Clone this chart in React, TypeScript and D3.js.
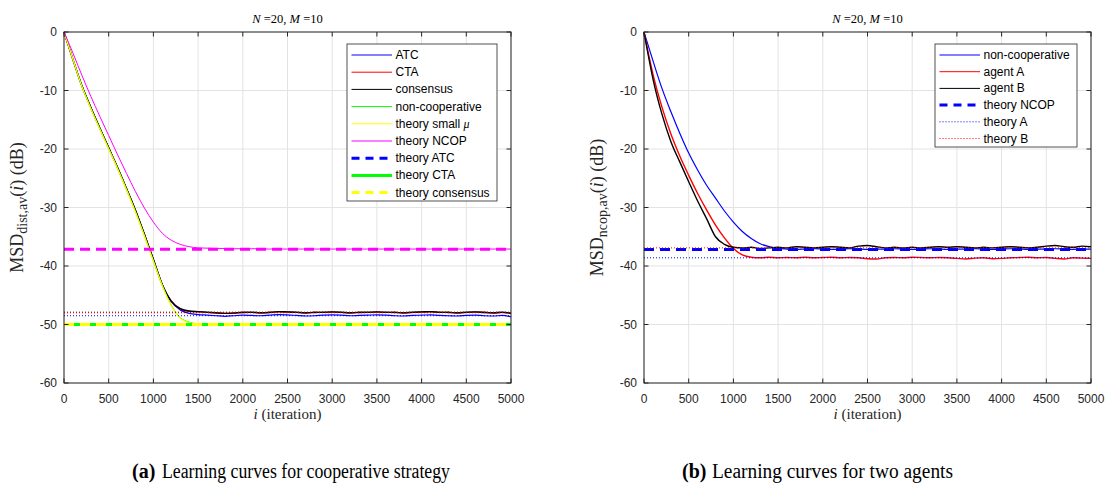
import React from 'react';
import * as d3 from 'd3';

const W = 1109;
const H = 491;

// iteration grid shared by every simulated curve (one sample every 100 iterations)
const iters = d3.range(0, 5001, 100);

// ---- (a) cooperative strategy ----
const atcVals = [0, -4.7, -9.2, -12.9, -16.4, -19.8, -23.2, -26.8, -30.5, -34.6, -38.9, -43.2, -46.1, -47.5, -48.1,
  -48.3, -48.4, -48.5, -48.6, -48.5, -48.4, -48.45, -48.5, -48.4, -48.3, -48.35, -48.45, -48.55, -48.5, -48.4, -48.35,
  -48.4, -48.5, -48.45, -48.4, -48.35, -48.4, -48.5, -48.55, -48.45, -48.4, -48.35, -48.45, -48.5, -48.55, -48.45, -48.4,
  -48.5, -48.55, -48.45, -48.7];
const ctaVals = [0, -4.7, -9.2, -12.9, -16.4, -19.8, -23.2, -26.8, -30.5, -34.6, -38.9, -43.2, -46.0, -47.3, -47.75,
  -47.85, -47.95, -48.05, -48.1, -48.0, -47.9, -47.95, -48.05, -47.9, -47.85, -47.9, -47.95, -48.05, -47.9, -47.95, -47.9,
  -47.95, -48.05, -47.9, -47.95, -47.9, -47.95, -47.9, -48.05, -47.95, -47.9, -47.85, -47.95, -47.9, -48.05, -47.95, -47.9,
  -47.9, -48.05, -47.95, -48.1];
const consensusVals = [0, -4.7, -9.2, -12.9, -16.4, -19.8, -23.2, -26.8, -30.5, -34.6, -38.9, -43.2, -46.0, -47.3, -47.7,
  -47.8, -47.9, -48.0, -48.1, -48.05, -47.95, -47.9, -48.0, -47.95, -47.8, -47.85, -47.9, -48.0, -47.95, -47.9, -47.85,
  -47.9, -48.0, -47.95, -47.9, -47.85, -47.9, -47.95, -48.0, -47.9, -47.85, -47.8, -47.9, -47.95, -48.0, -47.9, -47.85,
  -47.95, -48.0, -47.9, -48.05];
const nonCoopVals = [0, -4.6, -9.2, -13.0, -16.5, -19.9, -23.3, -26.9, -30.7, -34.8, -39.1, -43.3, -46.7, -48.8, -49.6,
  -49.9, -50.0, -50.05, -50.0, -49.95, -50.0, -50.05, -50.0, -49.95, -50.0, -50.05, -50.0, -49.95, -50.0, -50.05, -50.0,
  -49.95, -50.0, -50.05, -50.0, -49.95, -50.0, -50.05, -50.0, -49.95, -50.0, -50.05, -50.0, -49.95, -50.0, -50.05, -50.0,
  -49.95, -50.0, -50.05, -50.0];
const smallMuVals = [0, -4.7, -9.3, -13.1, -16.6, -20.0, -23.4, -27.0, -30.8, -34.9, -39.2, -43.4, -46.8, -48.9, -49.7,
  -49.9, -50.0, -50.05, -50.1, -50.0, -49.95, -50.0, -50.1, -50.05, -49.9, -49.95, -50.0, -50.05, -49.95, -49.9, -50.0,
  -50.05, -50.1, -50.0, -49.95, -49.9, -50.0, -50.05, -50.1, -50.0, -49.95, -50.0, -50.05, -50.0, -49.95, -50.0, -50.05,
  -50.1, -50.0, -49.95, -50.05];
const ncopTheoryVals = [0, -3.6, -7.4, -11.0, -14.4, -17.7, -21.0, -24.2, -27.3, -30.1, -32.5, -34.4, -35.6, -36.3, -36.7,
  -36.9, -36.95, -37.0, -37.0, -37.05, -37.05, -37.05, -37.05, -37.1, -37.1, -37.1, -37.1, -37.1, -37.1, -37.1, -37.1,
  -37.1, -37.1, -37.1, -37.1, -37.1, -37.1, -37.1, -37.1, -37.1, -37.1, -37.1, -37.1, -37.1, -37.1, -37.1, -37.1,
  -37.1, -37.1, -37.1, -37.1];
const theoryAtcLevel = -50.0;
const theoryCtaLevel = -50.0;
const theoryConsensusLevel = -50.0;
const theoryNcopLevel = -37.15;
const steadyRedLevel = -48.0;
const steadyBlackLevel = -47.9;
const steadyBlueLevel = -48.5;

// ---- (b) two agents ----
const nonCoopRVals = [0, -4.9, -9.6, -13.6, -17.3, -20.7, -23.6, -26.2, -28.4, -30.6, -32.5, -34.1, -35.3, -36.2, -36.7,
  -37.0, -37.1, -37.15, -37.1, -37.05, -37.1, -37.15, -37.1, -37.05, -37.1, -37.15, -37.1, -37.1, -37.05, -37.1, -37.15,
  -37.1, -37.05, -37.1, -37.15, -37.1, -37.1, -37.05, -37.1, -37.15, -37.1, -37.05, -37.1, -37.15, -37.1, -37.1, -37.05,
  -37.1, -37.15, -37.1, -37.1];
const agentAVals = [0, -7.2, -12.8, -17.4, -21.2, -24.5, -27.6, -30.4, -33.0, -35.2, -37.0, -38.1, -38.5,
  -38.6, -38.5, -38.6, -38.55, -38.6, -38.5, -38.6, -38.55, -38.5, -38.6, -38.55, -38.6, -38.75, -38.8, -38.6, -38.55,
  -38.6, -38.5, -38.55, -38.6, -38.55, -38.6, -38.7, -38.8, -38.65, -38.6, -38.75, -38.7, -38.6, -38.55, -38.5, -38.6,
  -38.55, -38.7, -38.8, -38.6, -38.65, -38.7];
const agentBVals = [0, -8.0, -14.0, -18.7, -22.2, -25.6, -28.9, -31.9, -35.0, -36.3, -36.8,
  -36.9, -36.8, -37.0, -36.9, -36.8, -36.9, -36.7, -36.8, -36.9, -36.8, -36.7, -36.8, -36.9, -36.6, -36.5, -36.7,
  -36.9, -36.8, -36.9, -36.8, -36.9, -36.8, -36.7, -36.8, -36.7, -36.8, -36.9, -36.8, -36.9, -36.8, -36.7, -36.8,
  -36.9, -36.8, -36.6, -36.5, -36.7, -36.8, -36.6, -36.7];
const theoryNcopRLevel = -37.2;
const theoryALevel = -38.6;
const theoryBLevel = -36.9;

const xTicks = [0, 500, 1000, 1500, 2000, 2500, 3000, 3500, 4000, 4500, 5000];
const yTicks = [0, -10, -20, -30, -40, -50, -60];

type Line = { xs: number[]; ys: number[]; color: string; width: number; dash?: string };
type LegendItem = { label: React.ReactNode; color: string; width: number; dash?: string };

const AX = '#262626';
const SANS = '"Liberation Sans", Arial, Helvetica, sans-serif';
const SERIF = '"Liberation Serif", "Times New Roman", serif';

const flat = (level: number) => [level, level];

function Panel(props: {
  x0: number; x1: number; lines: Line[]; legend: LegendItem[];
  legendX: number; legendW: number; legendH: number; rowStep: number; sub: string;
}) {
  const { x0, x1, lines, legend, legendX, legendW, legendH, rowStep, sub } = props;
  const x = d3.scaleLinear().domain([0, 5000]).range([x0, x1]);
  const y = d3.scaleLinear().domain([-60, 0]).range([383, 32]);
  const line = d3.line<[number, number]>().x(d => x(d[0])).y(d => y(d[1])).curve(d3.curveMonotoneX);
  const cx = (x0 + x1) / 2;
  const legendY = 44;
  return (
    <g>
      {/* grid */}
      {xTicks.map(t => <line key={'gx' + t} x1={x(t)} x2={x(t)} y1={y(-60)} y2={y(0)} stroke="#e3e3e3" />)}
      {yTicks.map(t => <line key={'gy' + t} x1={x0} x2={x1} y1={y(t)} y2={y(t)} stroke="#e3e3e3" />)}
      {/* curves */}
      {lines.map((l, i) => {
        const pts: [number, number][] = l.xs.map((v, k) => [v, l.ys[k]] as [number, number]).filter(p => p[1] !== undefined);
        return <path key={i} d={line(pts) || ''} fill="none" stroke={l.color} strokeWidth={l.width}
          strokeDasharray={l.dash} strokeLinejoin="round" />;
      })}
      {/* box and ticks */}
      <rect x={x0} y={y(0)} width={x1 - x0} height={y(-60) - y(0)} fill="none" stroke={AX} strokeWidth={1} />
      {xTicks.map(t => (
        <g key={'tx' + t}>
          <line x1={x(t)} x2={x(t)} y1={y(-60)} y2={y(-60) - 4.5} stroke={AX} />
          <line x1={x(t)} x2={x(t)} y1={y(0)} y2={y(0) + 4.5} stroke={AX} />
          <text x={x(t)} y={403} textAnchor="middle" fontFamily={SANS} fontSize={12} fill={AX}>{t}</text>
        </g>
      ))}
      {yTicks.map(t => (
        <g key={'ty' + t}>
          <line x1={x0} x2={x0 + 4.5} y1={y(t)} y2={y(t)} stroke={AX} />
          <line x1={x1} x2={x1 - 4.5} y1={y(t)} y2={y(t)} stroke={AX} />
          <text x={x0 - 7} y={y(t) + 4} textAnchor="end" fontFamily={SANS} fontSize={12} fill={AX}>{t}</text>
        </g>
      ))}
      {/* title */}
      <text x={cx} y={23} textAnchor="middle" fontFamily={SERIF} fontSize={12.5} fill="#000">
        <tspan fontStyle="italic">N</tspan><tspan> =20, </tspan><tspan fontStyle="italic">M</tspan><tspan> =10</tspan>
      </text>
      {/* axis labels */}
      <text x={cx} y={419} textAnchor="middle" fontFamily={SERIF} fontSize={15} fill={AX}>
        <tspan fontStyle="italic">i</tspan><tspan> (iteration)</tspan>
      </text>
      <text transform={`translate(${x0 - 41},207.5) rotate(-90)`} textAnchor="middle" fontFamily={SERIF} fontSize={18} fill={AX}>
        <tspan>MSD</tspan><tspan fontSize={14} dy={4}>{sub}</tspan><tspan dy={-4}>(</tspan><tspan fontStyle="italic">i</tspan><tspan>) (dB)</tspan>
      </text>
      {/* legend */}
      <rect x={legendX} y={legendY} width={legendW} height={legendH} fill="#fff" stroke={AX} strokeWidth={0.8} />
      {legend.map((it, i) => {
        const ry = legendY + 11 + i * rowStep;
        return (
          <g key={'lg' + i}>
            <line x1={legendX + 4.5} x2={legendX + 45} y1={ry} y2={ry} stroke={it.color} strokeWidth={it.width} strokeDasharray={it.dash} />
            <text x={legendX + 48.5} y={ry + 4} fontFamily={SANS} fontSize={12} fill="#000">{it.label}</text>
          </g>
        );
      })}
    </g>
  );
}

function Caption({ x0, x1, tag, text }: { x0: number; x1: number; tag: string; text: string }) {
  return (
    <g fontFamily={SERIF} fontSize={20} fill="#000">
      <text x={x0} y={478} fontWeight="bold">{tag}</text>
      <text x={x0 + 30} y={478} textLength={x1 - x0 - 30} lengthAdjust="spacingAndGlyphs">{text}</text>
    </g>
  );
}

export default function App() {
  const full = [0, 5000];
  const leftLines: Line[] = [
    { xs: iters, ys: atcVals, color: '#0000ff', width: 1.2 },
    { xs: iters, ys: ctaVals, color: '#ff0000', width: 1.2 },
    { xs: iters, ys: consensusVals, color: '#000000', width: 1.4 },
    { xs: iters, ys: nonCoopVals, color: '#00ff00', width: 1 },
    { xs: iters, ys: smallMuVals, color: '#ffff00', width: 1.2 },
    { xs: iters, ys: ncopTheoryVals, color: '#ff00ff', width: 1 },
    { xs: full, ys: flat(theoryAtcLevel), color: '#0000ff', width: 3, dash: '10,6' },
    { xs: full, ys: flat(theoryCtaLevel), color: '#00ff00', width: 3 },
    { xs: full, ys: flat(theoryConsensusLevel), color: '#ffff00', width: 3, dash: '10,6' },
    { xs: full, ys: flat(theoryNcopLevel), color: '#ff00ff', width: 3, dash: '10,6' },
    { xs: full, ys: flat(steadyBlackLevel), color: '#000000', width: 1, dash: '1,2' },
    { xs: full, ys: flat(steadyRedLevel), color: '#ff0000', width: 1, dash: '1,2' },
    { xs: full, ys: flat(steadyBlueLevel), color: '#0000ff', width: 1, dash: '1,2' },
  ];
  const leftLegend: LegendItem[] = [
    { label: 'ATC', color: '#0000ff', width: 1 },
    { label: 'CTA', color: '#ff0000', width: 1 },
    { label: 'consensus', color: '#000000', width: 1 },
    { label: 'non-cooperative', color: '#00ff00', width: 1 },
    { label: <>theory small <tspan fontFamily={SERIF} fontStyle="italic">μ</tspan></>, color: '#ffff00', width: 1 },
    { label: 'theory NCOP', color: '#ff00ff', width: 1 },
    { label: 'theory ATC', color: '#0000ff', width: 3, dash: '8,6' },
    { label: 'theory CTA', color: '#00ff00', width: 3 },
    { label: 'theory consensus', color: '#ffff00', width: 3, dash: '8,6' },
  ];
  const rightLines: Line[] = [
    { xs: iters, ys: nonCoopRVals, color: '#0000ff', width: 1.2 },
    { xs: iters, ys: agentAVals, color: '#ff0000', width: 1.4 },
    { xs: iters, ys: agentBVals, color: '#000000', width: 1.4 },
    { xs: full, ys: flat(theoryNcopRLevel), color: '#0000ff', width: 3, dash: '10,6' },
    { xs: full, ys: flat(theoryALevel), color: '#0000ff', width: 1, dash: '1,2' },
    { xs: full, ys: flat(theoryBLevel), color: '#ff0000', width: 1, dash: '1,2' },
  ];
  const rightLegend: LegendItem[] = [
    { label: 'non-cooperative', color: '#0000ff', width: 1 },
    { label: 'agent A', color: '#ff0000', width: 1 },
    { label: 'agent B', color: '#000000', width: 1 },
    { label: 'theory NCOP', color: '#0000ff', width: 3, dash: '8,6' },
    { label: 'theory A', color: '#0000ff', width: 1, dash: '1,2' },
    { label: 'theory B', color: '#ff0000', width: 1, dash: '1,2' },
  ];
  return (
    <svg width={W} height={H} style={{ position: 'absolute', left: 0, top: 0, background: '#fff' }}>
      <Panel x0={64} x1={511} lines={leftLines} legend={leftLegend} legendX={347} legendW={150} legendH={157}
        rowStep={17.2} sub="dist,av" />
      <Panel x0={644} x1={1091} lines={rightLines} legend={rightLegend} legendX={935} legendW={142} legendH={103}
        rowStep={16.7} sub="ncop,av" />
      <Caption x0={132} x1={450} tag="(a)" text="Learning curves for cooperative strategy" />
      <Caption x0={682} x1={953} tag="(b)" text="Learning curves for two agents" />
    </svg>
  );
}
